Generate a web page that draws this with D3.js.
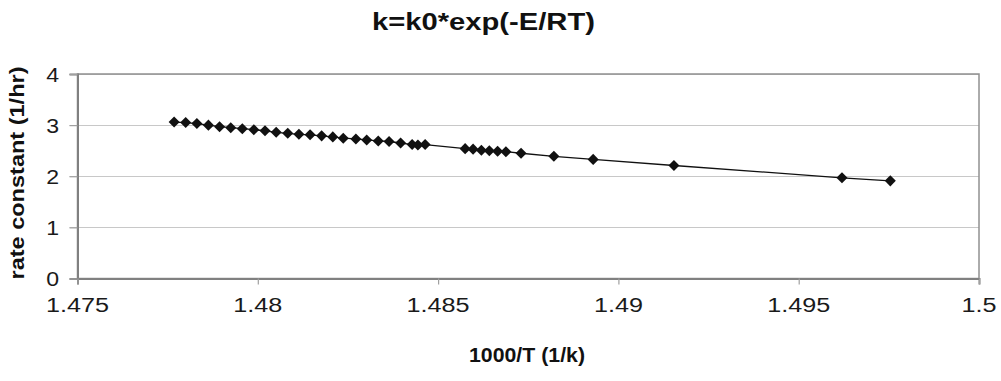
<!DOCTYPE html>
<html>
<head>
<meta charset="utf-8">
<script src="https://cdn.jsdelivr.net/npm/d3@7"></script>
<style>
  html, body { margin: 0; padding: 0; background: #fff; }
  svg { display: block; font-family: "Liberation Sans", Arial, sans-serif; }
</style>
</head>
<body>
<svg id="chart" width="1001" height="381"></svg>
<script>
// ---- data ----
const invT = [
  1.47768, 1.47800, 1.47831, 1.47863, 1.47894, 1.47925, 1.47957, 1.47989,
  1.48020, 1.48051, 1.48083, 1.48114, 1.48145, 1.48177, 1.48208, 1.48237,
  1.48272, 1.48302, 1.48334, 1.48364, 1.48396, 1.48428, 1.48444, 1.48464,
  1.48575, 1.48597, 1.48620, 1.48642, 1.48665, 1.48688, 1.48730, 1.48821,
  1.48930, 1.49154, 1.49620, 1.49754
];
const rateK = [
  3.06, 3.05, 3.03, 3.00, 2.97, 2.95, 2.93, 2.91,
  2.89, 2.86, 2.84, 2.82, 2.81, 2.79, 2.77, 2.745,
  2.73, 2.71, 2.69, 2.68, 2.65, 2.62, 2.61, 2.62,
  2.54, 2.53, 2.51, 2.50, 2.49, 2.48, 2.45, 2.39,
  2.33, 2.21, 1.97, 1.91
];
const xTicks = [1.475, 1.48, 1.485, 1.49, 1.495, 1.5];
const xTickLabels = ["1.475", "1.48", "1.485", "1.49", "1.495", "1.5"];
const yTicks = [0, 1, 2, 3, 4];
const yTickLabels = ["0", "1", "2", "3", "4"];
const titleText = "k=k0*exp(-E/RT)";
const xTitle = "1000/T (1/k)";
const yTitle = "rate constant (1/hr)";

// ---- layout ----
const svg = d3.select("#chart");
const plot = { left: 77.5, right: 979, top: 74, bottom: 278.5 };

const x = d3.scaleLinear().domain([1.475, 1.5]).range([plot.left, plot.right]);
const y = d3.scaleLinear().domain([0, 4]).range([plot.bottom, plot.top]);

// gridlines
svg.append("g")
  .selectAll("line")
  .data(yTicks.slice(1))
  .join("line")
  .attr("x1", plot.left - 8).attr("x2", plot.right)
  .attr("y1", d => Math.round(y(d)) + 0.5).attr("y2", d => Math.round(y(d)) + 0.5)
  .attr("stroke", "#c8c8c8").attr("stroke-width", 1.2);

// plot border (top/right)
svg.append("rect")
  .attr("x", plot.left).attr("y", plot.top)
  .attr("width", plot.right - plot.left).attr("height", plot.bottom - plot.top)
  .attr("fill", "none").attr("stroke", "#909090").attr("stroke-width", 1.5);

// y axis
const yAxis = d3.axisLeft(y).tickValues(yTicks).tickSize(8).tickFormat(() => "");
const gy = svg.append("g").attr("transform", `translate(${plot.left},0)`).call(yAxis);
gy.select(".domain").attr("stroke", "#808080").attr("stroke-width", 2);
gy.selectAll(".tick line").attr("stroke", "#a0a0a0").attr("stroke-width", 1.2);

// x axis
const xAxis = d3.axisBottom(x).tickValues(xTicks).tickSize(6).tickFormat(() => "");
const gx = svg.append("g").attr("transform", `translate(0,${plot.bottom})`).call(xAxis);
gx.select(".domain").attr("stroke", "#808080").attr("stroke-width", 2);
gx.selectAll(".tick line").attr("stroke", "#a0a0a0").attr("stroke-width", 1.2);

// tick labels
svg.append("g").selectAll("text")
  .data(yTicks)
  .join("text")
  .attr("transform", (d) => `translate(59,${y(d) + 7.5}) scale(1.1,1)`)
  .attr("text-anchor", "end")
  .attr("font-size", 21)
  .attr("fill", "#1a1a1a")
  .text((d, i) => yTickLabels[i]);

svg.append("g").selectAll("text")
  .data(xTicks)
  .join("text")
  .attr("transform", (d) => `translate(${x(d)},${312}) scale(1.2,1)`)
  .attr("text-anchor", "middle")
  .attr("font-size", 21)
  .attr("fill", "#1a1a1a")
  .text((d, i) => xTickLabels[i]);

// titles
svg.append("text")
  .attr("x", 483.5).attr("y", 30)
  .attr("text-anchor", "middle")
  .attr("font-size", 23).attr("font-weight", "bold").attr("fill", "#111")
  .attr("textLength", 223).attr("lengthAdjust", "spacingAndGlyphs")
  .text(titleText);

svg.append("text")
  .attr("x", 527).attr("y", 362)
  .attr("text-anchor", "middle")
  .attr("font-size", 20).attr("font-weight", "bold").attr("fill", "#111")
  .attr("textLength", 116).attr("lengthAdjust", "spacingAndGlyphs")
  .text(xTitle);

svg.append("text")
  .attr("transform", "translate(24,173) rotate(-90)")
  .attr("text-anchor", "middle")
  .attr("font-size", 21).attr("font-weight", "bold").attr("fill", "#111")
  .attr("textLength", 213).attr("lengthAdjust", "spacingAndGlyphs")
  .text(yTitle);

// series line
const line = d3.line().x((d, i) => x(invT[i])).y((d, i) => y(rateK[i]));
svg.append("path")
  .datum(rateK)
  .attr("d", line)
  .attr("fill", "none")
  .attr("stroke", "#111")
  .attr("stroke-width", 1.3);

// diamond markers
const diamond = d3.symbol().type(d3.symbolDiamond2).size(78);
svg.append("g").selectAll("path")
  .data(rateK)
  .join("path")
  .attr("transform", (d, i) => `translate(${x(invT[i])},${y(d)})`)
  .attr("d", diamond)
  .attr("fill", "#111");
</script>
</body>
</html>
